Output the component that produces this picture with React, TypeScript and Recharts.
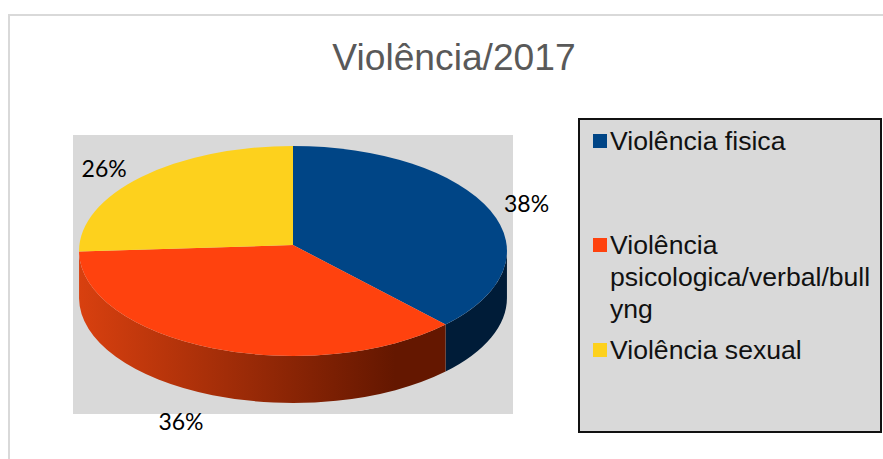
import { PieChart, Pie, Legend } from 'recharts'

const categories = ['Violência fisica', 'Violência\npsicologica/verbal/bull\nyng', 'Violência sexual']
const shares = [38, 36, 26]
const topColors = ['#004586', '#FF420E', '#FDD11D']
const wallLight = ['#001C38', '#D8400F', '#8A7000']
const wallDark = ['#001C38', '#641700', '#8A7000']

const rows = categories.map((name, i) => ({ name, value: shares[i], fill: topColors[i] }))

const CX = 293
const APEX_Y = 245
const RX = 214
const RY = 105
const DEPTH = 47
// the pie is tilted in perspective, so the front half comes out larger
const TILT = 0.0571
const SCALE_X = 213.6
const SCALE_Y = 104.66

const pointAt = (angle: number, drop = 0) => {
  const rad = (angle * Math.PI) / 180
  const w = 1 + TILT * Math.sin(rad)
  return [CX + (SCALE_X * Math.cos(rad)) / w, APEX_Y - (SCALE_Y * Math.sin(rad)) / w + drop]
}

function TopSlice(props: any) {
  const { startAngle, endAngle, fill } = props
  const [x1, y1] = pointAt(startAngle)
  const [x2, y2] = pointAt(endAngle)
  const large = Math.abs(startAngle - endAngle) > 180 ? 1 : 0
  return <path d={`M${CX},${APEX_Y} L${x1},${y1} A${RX},${RY} 0 ${large} 1 ${x2},${y2} Z`} fill={fill} />
}

// only the front of the rim can be seen
function WallSlice(props: any) {
  const { startAngle, endAngle, index } = props
  const from = Math.min(startAngle, -3)
  const to = Math.max(endAngle, -177)
  if (from <= to) return null
  const [x1, y1] = pointAt(from)
  const [x2, y2] = pointAt(to)
  const id = `wall-${index}`
  return (
    <g>
      <defs>
        <linearGradient id={id} gradientUnits="userSpaceOnUse" x1={80} y1={0} x2={395} y2={0}>
          <stop offset="0%" stopColor={wallLight[index]} />
          <stop offset="100%" stopColor={wallDark[index]} />
        </linearGradient>
      </defs>
      <path
        d={`M${x1},${y1} A${RX},${RY} 0 0 1 ${x2},${y2} L${x2},${y2 + DEPTH} A${RX},${RY} 0 0 0 ${x1},${y1 + DEPTH} Z`}
        fill={`url(#${id})`}
      />
    </g>
  )
}

function PercentLabel(props: any) {
  const { midAngle, value } = props
  const [x, y] = pointAt(midAngle)
  const rad = (midAngle * Math.PI) / 180
  const side = Math.cos(rad) >= 0 ? 1 : -1
  const below = Math.sin(rad) < -0.5
  return (
    <text
      x={x + (below ? -29 : side * 39)}
      y={y + (below ? 73 : side > 0 ? -4 : -8)}
      textAnchor="middle"
      dominantBaseline="central"
      fontFamily="Lato"
      fontSize={23}
      fill="#000"
    >
      {value}%
    </text>
  )
}

function LegendBox({ payload }: any) {
  // both pies report to the legend, keep one entry per category
  const items = (payload || []).filter(
    (item: any, i: number, all: any[]) => all.findIndex((o) => o.value === item.value) === i,
  )
  return (
    <div
      style={{
        boxSizing: 'border-box',
        width: 304,
        height: 315,
        background: '#D9D9D9',
        border: '2px solid #111',
        padding: '5px 0 0 13px',
        fontFamily: '"Liberation Sans"',
        fontSize: 26.6,
        lineHeight: '32px',
        color: '#111',
      }}
    >
      {items.map((item: any, i: number) => (
        <div key={i} style={{ display: 'flex', marginBottom: i === 0 ? 72 : 9 }}>
          <span
            style={{
              flex: 'none',
              width: 14,
              height: 14,
              marginTop: 9,
              marginRight: 3,
              background: topColors[i],
            }}
          />
          <span style={{ whiteSpace: 'pre-line' }}>{item.value}</span>
        </div>
      ))}
    </div>
  )
}

export default function App() {
  return (
    <div style={{ position: 'absolute', left: 0, top: 0, width: 883, height: 459, background: '#fff', overflow: 'hidden' }}>
      <div style={{ position: 'absolute', left: 8, top: 14, width: 900, height: 500, border: '2px solid #D9D9D9' }} />
      <div style={{ position: 'absolute', left: 73, top: 135, width: 440, height: 279, background: '#D9D9D9' }} />
      <div
        style={{
          position: 'absolute',
          left: 254,
          width: 400,
          top: 35,
          textAlign: 'center',
          fontFamily: '"Liberation Sans"',
          fontSize: 37.2,
          lineHeight: '44px',
          color: '#595959',
        }}
      >
        Violência/2017
      </div>
      <div style={{ position: 'absolute', left: 0, top: 0 }}>
        <PieChart width={883} height={459} margin={{ top: 0, right: 0, bottom: 0, left: 0 }}>
          <Pie
            data={rows}
            dataKey="value"
            nameKey="name"
            cx={CX}
            cy={APEX_Y}
            outerRadius={RX}
            startAngle={90}
            endAngle={-270}
            stroke="none"
            legendType="none"
            isAnimationActive={false}
            shape={WallSlice}
          />
          <Pie
            data={rows}
            dataKey="value"
            nameKey="name"
            cx={CX}
            cy={APEX_Y}
            outerRadius={RX}
            startAngle={90}
            endAngle={-270}
            stroke="none"
            isAnimationActive={false}
            shape={TopSlice}
            label={PercentLabel}
            labelLine={false}
          />
          <Legend
            layout="vertical"
            itemSorter={null}
            content={<LegendBox />}
            wrapperStyle={{ position: 'absolute', left: 578, top: 118, width: 304, height: 315 }}
          />
        </PieChart>
      </div>
    </div>
  )
}
